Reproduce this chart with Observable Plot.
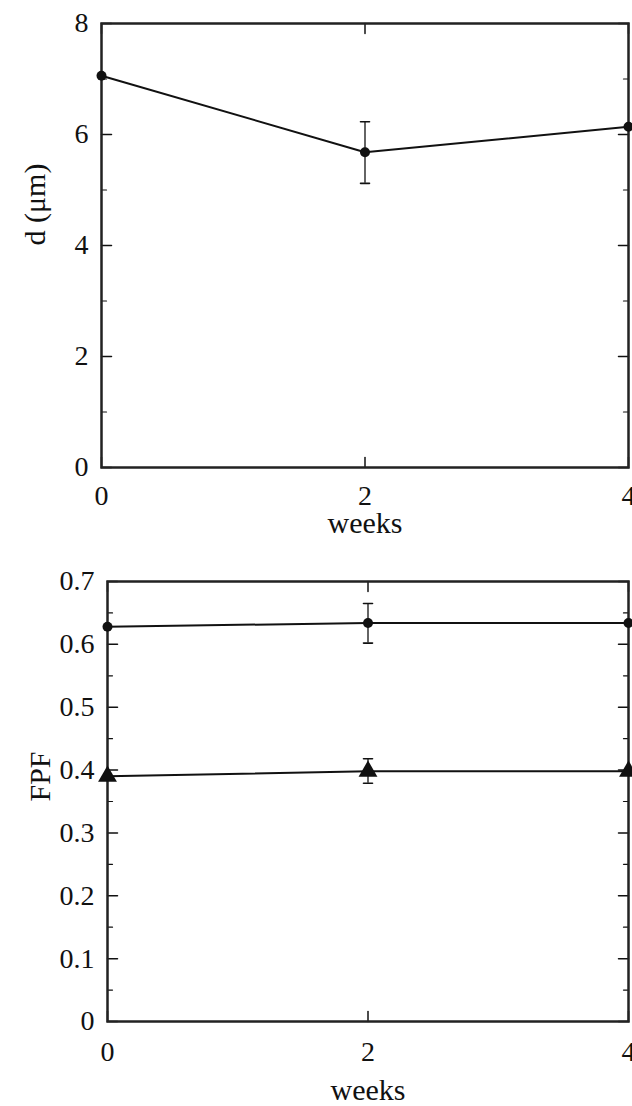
<!DOCTYPE html>
<html>
<head>
<meta charset="utf-8">
<script src="https://cdn.jsdelivr.net/npm/d3@7"></script>
<script src="https://cdn.jsdelivr.net/npm/@observablehq/plot@0.6"></script>
<style>
  html, body { margin: 0; padding: 0; background: #fff; }
  #chart { width: 632px; height: 1106px; }
  #chart svg { display: block; }
</style>
</head>
<body>
<div id="chart"></div>
<script>
// ---- Data ----
const weeks = [0, 2, 4];
const xTicks = [0, 2, 4];

// Top panel: d (µm)
const dMean = [7.06, 5.68, 6.14];
const dLow  = [null, 5.12, null];
const dHigh = [null, 6.23, null];
const dTicks = [0, 2, 4, 6, 8];
const dMinor = [1, 3, 5, 7];

// Bottom panel: FPF, two series
const fpfCircle = [0.628, 0.634, 0.634];
const fpfCircleLow  = [null, 0.602, null];
const fpfCircleHigh = [null, 0.665, null];
const fpfTriangle = [0.390, 0.398, 0.398];
const fpfTriangleLow  = [null, 0.379, null];
const fpfTriangleHigh = [null, 0.418, null];
const fpfTicks = [0, 0.1, 0.2, 0.3, 0.4, 0.5, 0.6, 0.7];
const fpfMinor = [0.05, 0.15, 0.25, 0.35, 0.45, 0.55, 0.65];

const FONT = "'Liberation Serif', 'Times New Roman', serif";

// plain line shape for vector marks (no arrowhead)
const stick = {draw(context, l) { context.moveTo(0, 0); context.lineTo(0, -l); }};

function rowsOf(mean, lo, hi) {
  return weeks.map((w, i) => ({week: w, v: mean[i], lo: lo[i], hi: hi[i]}));
}

function tickMarks(yTicks, yMinor, xMajor, yDomain) {
  const [y0, y1] = yDomain;
  const s = {shape: stick, anchor: "start", stroke: "#111"};
  return [
    Plot.vector(yTicks, {...s, x: () => 0, y: d => d, rotate: 90, length: 10, strokeWidth: 1.5}),
    Plot.vector(yMinor, {...s, x: () => 0, y: d => d, rotate: 90, length: 5, strokeWidth: 1.2}),
    Plot.vector(yTicks, {...s, x: () => 4, y: d => d, rotate: -90, length: 10, strokeWidth: 1.5}),
    Plot.vector(yMinor, {...s, x: () => 4, y: d => d, rotate: -90, length: 5, strokeWidth: 1.2}),
    Plot.vector(xMajor, {...s, x: d => d, y: () => y0, rotate: 0, length: 10, strokeWidth: 1.5}),
    Plot.vector(xMajor, {...s, x: d => d, y: () => y1, rotate: 180, length: 10, strokeWidth: 1.5})
  ];
}

function errorMarks(rows) {
  const e = rows.filter(r => r.lo != null);
  const s = {shape: stick, anchor: "middle", stroke: "#111", strokeWidth: 1.6, rotate: 90, length: 9};
  return [
    Plot.ruleX(e, {x: "week", y1: "lo", y2: "hi", stroke: "#111", strokeWidth: 1.3}),
    Plot.vector(e, {...s, x: "week", y: "lo"}),
    Plot.vector(e, {...s, x: "week", y: "hi"})
  ];
}

// ---- Top panel ----
const topRows = rowsOf(dMean, dLow, dHigh);
const topChart = Plot.plot({
  width: 632,
  height: 540,
  marginLeft: 101,
  marginRight: 4,
  marginTop: 23,
  marginBottom: 73,
  style: {fontFamily: FONT, fontSize: "28px", color: "#111", background: "#fff", overflow: "visible"},
  x: {domain: [0, 4], ticks: xTicks, label: null},
  y: {domain: [0, 8], ticks: dTicks, label: null},
  marks: [
    Plot.axisX({ticks: xTicks, tickSize: 0, tickPadding: 18, tickFormat: d => String(d), fontSize: 28, label: null}),
    Plot.axisY({ticks: dTicks, tickSize: 0, tickPadding: 13, tickFormat: d => String(d), fontSize: 28, label: null}),
    ...tickMarks(dTicks, dMinor, xTicks, [0, 8]),
    Plot.frame({stroke: "#222", strokeWidth: 2.5}),
    ...errorMarks(topRows),
    Plot.line(topRows, {x: "week", y: "v", stroke: "#111", strokeWidth: 2}),
    Plot.dot(topRows, {x: "week", y: "v", r: 5, fill: "#111", stroke: "none"}),
    Plot.text(["weeks"], {x: () => 2, frameAnchor: "bottom", dy: 56, text: d => d, fontSize: 30, lineAnchor: "middle", fill: "#111"}),
    Plot.text(["d (μm)"], {y: () => 4, frameAnchor: "left", dx: -66, rotate: -90, text: d => d, fontSize: 30, lineAnchor: "middle", fill: "#111"})
  ]
});

// ---- Bottom panel ----
const circRows = rowsOf(fpfCircle, fpfCircleLow, fpfCircleHigh);
const triRows = rowsOf(fpfTriangle, fpfTriangleLow, fpfTriangleHigh);
const bottomChart = Plot.plot({
  width: 632,
  height: 566,
  marginLeft: 107,
  marginRight: 4,
  marginTop: 41,
  marginBottom: 85,
  style: {fontFamily: FONT, fontSize: "28px", color: "#111", background: "#fff", overflow: "visible"},
  x: {domain: [0, 4], ticks: xTicks, label: null},
  y: {domain: [0, 0.7], ticks: fpfTicks, label: null},
  marks: [
    Plot.axisX({ticks: xTicks, tickSize: 0, tickPadding: 20, tickFormat: d => String(d), fontSize: 28, label: null}),
    Plot.axisY({ticks: fpfTicks, tickSize: 0, tickPadding: 13, tickFormat: d => d === 0 ? "0" : d3.format(".1f")(d), fontSize: 28, label: null}),
    ...tickMarks(fpfTicks, fpfMinor, xTicks, [0, 0.7]),
    Plot.frame({stroke: "#222", strokeWidth: 2.5}),
    ...errorMarks(circRows),
    ...errorMarks(triRows),
    Plot.line(circRows, {x: "week", y: "v", stroke: "#111", strokeWidth: 2}),
    Plot.line(triRows, {x: "week", y: "v", stroke: "#111", strokeWidth: 2}),
    Plot.dot(circRows, {x: "week", y: "v", r: 5, fill: "#111", stroke: "none"}),
    Plot.dot(triRows, {x: "week", y: "v", r: 7, symbol: "triangle", fill: "#111", stroke: "none"}),
    Plot.text(["weeks"], {x: () => 2, frameAnchor: "bottom", dy: 69, text: d => d, fontSize: 30, lineAnchor: "middle", fill: "#111"}),
    Plot.text(["FPF"], {y: () => 0.35, frameAnchor: "left", dx: -67, rotate: -90, text: d => d, fontSize: 30, lineAnchor: "middle", fill: "#111"})
  ]
});

const root = document.getElementById("chart");
root.appendChild(topChart);
root.appendChild(bottomChart);
</script>
</body>
</html>
